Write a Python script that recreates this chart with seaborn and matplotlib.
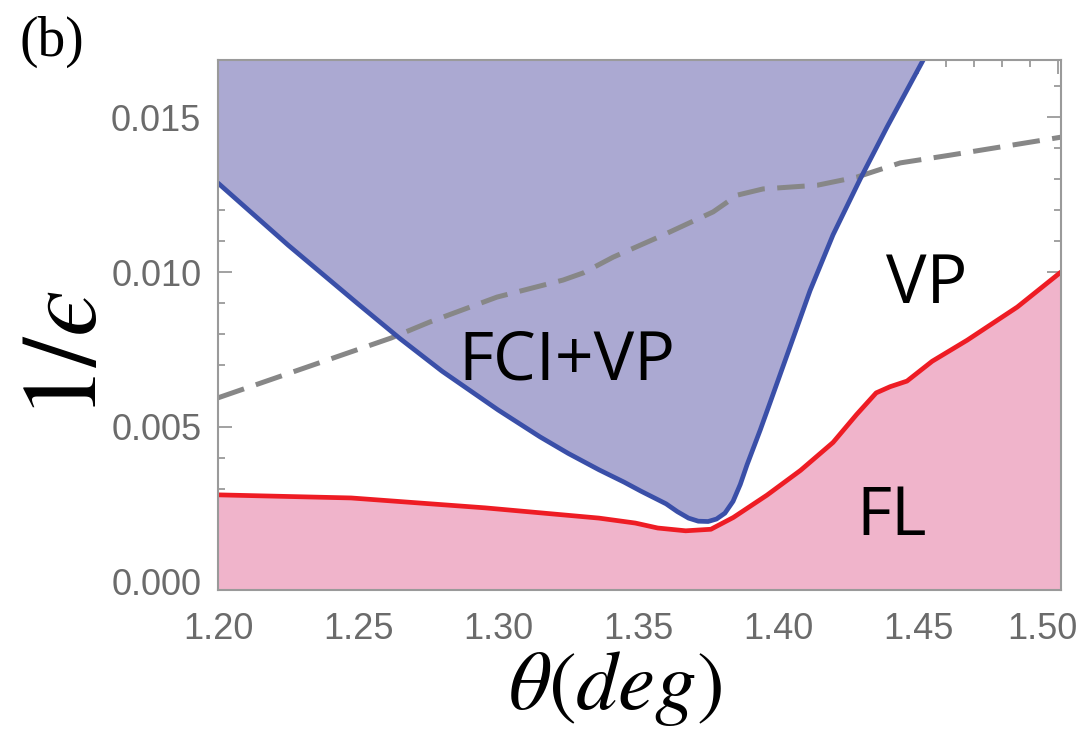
import numpy as np
import pandas as pd
import matplotlib
matplotlib.use("Agg")
import matplotlib.pyplot as plt
import matplotlib.transforms as mtransforms
import seaborn as sns
from matplotlib.ticker import MultipleLocator, FormatStrFormatter

# ---------------- data ----------------
blue_theta = [1.200, 1.225, 1.250, 1.265, 1.280, 1.300, 1.315, 1.325, 1.336, 1.345, 1.351, 1.360,
              1.364, 1.368, 1.3715, 1.375, 1.378, 1.381, 1.3839, 1.3865, 1.3889,
              1.3936, 1.3971, 1.4043, 1.4114, 1.4196, 1.4293, 1.4389, 1.4518]
blue_inv_eps = [0.01287, 0.01087, 0.00897, 0.00785, 0.00680, 0.00555, 0.00468, 0.00415, 0.00362, 0.00322, 0.00293, 0.00252,
                0.00227, 0.00206, 0.00196, 0.00195, 0.00203, 0.00222, 0.00260, 0.00315, 0.00378,
                0.00490, 0.00578, 0.00760, 0.00940, 0.01120, 0.01300, 0.01468, 0.01684]

red_theta = [1.200, 1.2475, 1.2954, 1.336, 1.349, 1.357, 1.367, 1.376, 1.384,
             1.396, 1.408, 1.4196, 1.428, 1.435, 1.440, 1.446, 1.455, 1.4675, 1.4854, 1.501]
red_inv_eps = [0.00281, 0.00271, 0.00239, 0.00206, 0.00190, 0.00174, 0.00165, 0.00170, 0.00208,
               0.00280, 0.00360, 0.00450, 0.00540, 0.00610, 0.00630, 0.00648, 0.00712, 0.00780, 0.00887, 0.01000]

dash_theta = [1.200, 1.2618, 1.2757, 1.2996, 1.3232, 1.3304, 1.3411, 1.3589, 1.3768,
              1.3854, 1.3946, 1.4043, 1.414, 1.428, 1.4436, 1.4614, 1.501]
dash_inv_eps = [0.00594, 0.00787, 0.00839, 0.00919, 0.00974, 0.00997, 0.01048, 0.01119, 0.01194,
                0.01248, 0.01268, 0.01274, 0.01280, 0.01306, 0.01352, 0.01377, 0.01435]

region_labels = ["FCI+VP", "VP", "FL"]
region_theta = [1.3246, 1.4532, 1.4404]
region_inv_eps = [0.00652, 0.00900, 0.00152]

x_ticks = [1.20, 1.25, 1.30, 1.35, 1.40, 1.45, 1.50]
y_ticks = [0.000, 0.005, 0.010, 0.015]

# ---------------- styling ----------------
sns.set_style("ticks")
plt.rcParams["font.family"] = ["Liberation Sans", "DejaVu Sans"]
plt.rcParams["mathtext.fontset"] = "stix"

c_blue_fill = "#aba9d2"
c_pink_fill = "#f0b4cb"
c_blue_line = "#3a4fa8"
c_red_line = "#ee1c24"
c_dash = "#878787"
c_frame = "#9a9a9a"
c_tick = "#6b6b6b"

fig = plt.figure(figsize=(10.89, 7.37), dpi=100)
ax = fig.add_axes([218 / 1089, 1 - 590 / 737, (1061 - 218) / 1089, (590 - 60) / 737])

y_lo, y_hi = -0.00026, 0.01684
ax.set_xlim(1.20, 1.501)
ax.set_ylim(y_lo, y_hi)

blue_df = pd.DataFrame({"theta": blue_theta, "inv_eps": blue_inv_eps})
red_df = pd.DataFrame({"theta": red_theta, "inv_eps": red_inv_eps})
dash_df = pd.DataFrame({"theta": dash_theta, "inv_eps": dash_inv_eps})

ax.fill_between(blue_df["theta"], blue_df["inv_eps"], 1.0, color=c_blue_fill, lw=0, zorder=1)
ax.fill_between(red_df["theta"], -1.0, red_df["inv_eps"], color=c_pink_fill, lw=0, zorder=1)

sns.lineplot(data=dash_df, x="theta", y="inv_eps", ax=ax, color=c_dash, lw=3.6,
             linestyle=(0, (5.5, 2.5)), sort=False, estimator=None, zorder=3)
sns.lineplot(data=blue_df, x="theta", y="inv_eps", ax=ax, color=c_blue_line, lw=3.4,
             sort=False, estimator=None, zorder=4)
sns.lineplot(data=red_df, x="theta", y="inv_eps", ax=ax, color=c_red_line, lw=3.4,
             sort=False, estimator=None, zorder=4)
for ln in ax.get_lines():
    ln.set_solid_joinstyle("round")
    ln.set_solid_capstyle("round")

for lab, tx, ty in zip(region_labels, region_theta, region_inv_eps):
    ax.text(tx, ty, lab, ha="center", va="baseline", fontsize=49,
            family=["Open Sans", "DejaVu Sans"], color="black", zorder=5)

# ticks
ax.set_xticks(x_ticks)
ax.set_yticks(y_ticks)
ax.xaxis.set_major_formatter(FormatStrFormatter("%.2f"))
ax.yaxis.set_major_formatter(FormatStrFormatter("%.3f"))
ax.xaxis.set_minor_locator(MultipleLocator(0.01))
ax.yaxis.set_minor_locator(MultipleLocator(0.001))
ax.tick_params(which="both", direction="in", top=True, right=True, color=c_frame, width=1.3)
ax.tick_params(which="major", length=10)
ax.tick_params(which="minor", length=5)
ax.tick_params(axis="x", which="major", labelsize=26, labelcolor=c_tick, pad=16)
ax.tick_params(axis="y", which="major", labelsize=26, labelcolor=c_tick, pad=12)
for sp in ax.spines.values():
    sp.set_color(c_frame)
    sp.set_linewidth(1.5)
    sp.set_zorder(6)

# last x tick label sits a little left of its tick, as in the reference
fig.canvas.draw()
last_lbl = ax.get_xticklabels()[-1]
last_lbl.set_transform(last_lbl.get_transform() +
                       mtransforms.ScaledTranslation(-16 / 100, 0, fig.dpi_scale_trans))

ax.set_xlabel(r"$\theta(deg)$", fontsize=60, color="black")
ax.set_ylabel("$1/\u03f5$", fontsize=76, color="black")
ax.xaxis.set_label_coords((615 - 218) / 843, -0.112)
ax.yaxis.set_label_coords((118 - 218) / 843, (590 - 355) / 530)

fig.text(20 / 1089, 1 - 56 / 737, "(b)", fontsize=40, family=["Liberation Serif"],
         ha="left", va="baseline", color="black")

fig.savefig("out.png", dpi=100)
